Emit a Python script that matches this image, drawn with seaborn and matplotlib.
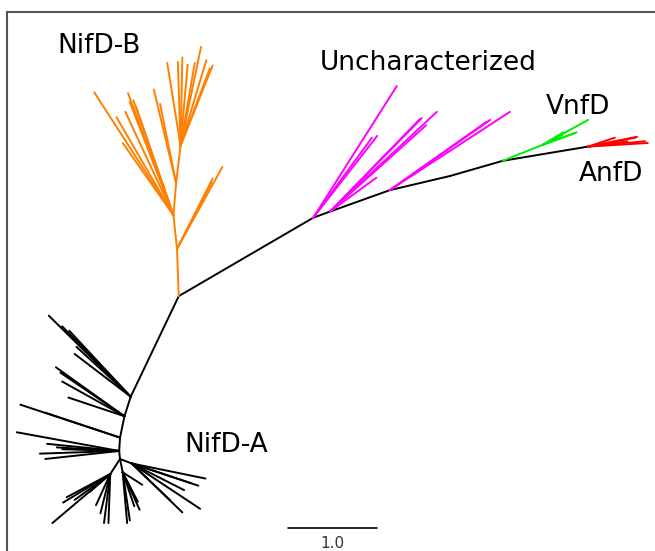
import pandas as pd
import matplotlib
matplotlib.use("Agg")
import matplotlib.pyplot as plt
import seaborn as sns

# node positions of the unrooted tree layout, in branch-length units (scale bar = 1.0)
inner_nodes = {
    "HA0": (0.00, 0.00), "HA1": (-0.01, 0.09), "HA2": (0.00, 0.24),
    "HA3": (0.05, 0.48), "HA4": (0.12, 0.70),
    "HA5": (-0.11, -0.17), "HA6": (0.03, -0.15), "HA7": (0.13, -0.05),
    "J": (0.66, 1.83),
    "B1": (0.64, 2.36), "B2": (0.60, 2.74), "B3": (0.63, 3.10), "B4": (0.68, 3.52),
    "U1": (2.17, 2.71), "U2": (2.36, 2.78), "U3": (3.03, 3.02), "M1": (3.71, 3.18),
    "V": (4.30, 3.35), "V1": (4.75, 3.53),
    "A": (5.26, 3.51),
}

inner_edges = [
    ("HA0", "HA1", "backbone"), ("HA1", "HA2", "backbone"), ("HA2", "HA3", "backbone"),
    ("HA3", "HA4", "backbone"), ("HA4", "J", "backbone"),
    ("HA0", "HA5", "backbone"), ("HA0", "HA6", "backbone"), ("HA0", "HA7", "backbone"),
    ("J", "U1", "backbone"), ("U1", "U2", "backbone"), ("U2", "U3", "backbone"),
    ("U3", "M1", "backbone"), ("M1", "V", "backbone"), ("V", "A", "backbone"),
    ("J", "B1", "NifD-B"), ("B1", "B2", "NifD-B"), ("B2", "B3", "NifD-B"), ("B3", "B4", "NifD-B"),
    ("V", "V1", "VnfD"),
]

nifd_a_tips = [
    ("HA4", -0.80, 1.61), ("HA4", -0.65, 1.49), ("HA4", -0.57, 1.44),
    ("HA4", -0.49, 1.26), ("HA4", -0.51, 1.18),
    ("HA3", -0.72, 1.03), ("HA3", -0.67, 0.97), ("HA3", -0.65, 0.87), ("HA3", -0.58, 0.69),
    ("HA2", -1.12, 0.61), ("HA2", -0.84, 0.52),
    ("HA1", -1.16, 0.30), ("HA1", -0.82, 0.17), ("HA1", -0.71, 0.13),
    ("HA1", -0.65, 0.11), ("HA1", -0.90, 0.06), ("HA1", -0.84, 0.00),
    ("HA5", -0.76, -0.72), ("HA5", -0.64, -0.49), ("HA5", -0.60, -0.43), ("HA5", -0.51, -0.46),
    ("HA5", -0.40, -0.33), ("HA5", -0.34, -0.37), ("HA5", -0.27, -0.52), ("HA5", -0.22, -0.61),
    ("HA5", -0.18, -0.72), ("HA5", -0.13, -0.72),
    ("HA6", 0.08, -0.72), ("HA6", 0.11, -0.69), ("HA6", 0.16, -0.53),
    ("HA6", 0.20, -0.48), ("HA6", 0.22, -0.57), ("HA6", 0.25, -0.29),
    ("HA7", 0.96, -0.22), ("HA7", 0.88, -0.30), ("HA7", 0.72, -0.35), ("HA7", 0.79, -0.27),
    ("HA7", 0.90, -0.56), ("HA7", 0.70, -0.60), ("HA7", 0.56, -0.46),
]

nifd_b_tips = [
    ("B1", 1.15, 3.28), ("B1", 1.04, 3.15), ("B1", 1.03, 3.11),
    ("B2", -0.29, 4.12), ("B2", -0.04, 3.84), ("B2", 0.03, 3.55), ("B2", 0.09, 4.11),
    ("B2", 0.11, 4.01), ("B2", 0.06, 3.90), ("B2", 0.15, 4.03), ("B2", 0.18, 3.96),
    ("B3", 0.38, 4.15), ("B3", 0.45, 3.99),
    ("B4", 0.53, 4.45), ("B4", 0.65, 4.46), ("B4", 0.70, 4.51), ("B4", 0.76, 4.43),
    ("B4", 0.91, 4.63), ("B4", 0.97, 4.48), ("B4", 1.04, 4.42), ("B4", 1.01, 4.39),
    ("B4", 0.84, 4.45),
]

unchar_tips = [
    ("U1", 3.11, 4.19), ("U1", 2.89, 3.63), ("U1", 2.83, 3.61),
    ("U2", 3.56, 3.90), ("U2", 3.39, 3.83), ("U2", 3.37, 3.82), ("U2", 3.44, 3.75),
    ("U2", 2.88, 3.16),
    ("U3", 4.38, 3.90), ("U3", 4.16, 3.81), ("U3", 4.12, 3.79),
]

vnfd_tips = [
    ("V1", 5.26, 3.81), ("V1", 5.13, 3.67), ("V1", 5.11, 3.66),
    ("V1", 4.98, 3.67), ("V1", 4.97, 3.64),
]

anfd_tips = [
    ("A", 5.93, 3.55), ("A", 5.81, 3.62), ("A", 5.79, 3.61),
    ("A", 5.56, 3.61), ("A", 5.90, 3.57), ("A", 5.70, 3.57),
]

clade_labels = ["NifD-B", "Uncharacterized", "VnfD", "AnfD", "NifD-A"]
label_x = [-0.70, 2.24, 4.78, 5.15, 0.72]
label_y = [4.56, 4.37, 3.88, 3.12, 0.08]

palette = {
    "backbone": "black",
    "NifD-A": "black",
    "NifD-B": "#ff8000",
    "Uncharacterized": "#ff00ff",
    "VnfD": "#00ee00",
    "AnfD": "#ff0000",
}

# build one row per segment end
rows = []
seg = 0
for p, c, grp in inner_edges:
    for node in (p, c):
        rows.append({"x": inner_nodes[node][0], "y": inner_nodes[node][1], "seg": seg, "group": grp})
    seg += 1
for grp, tips in [("NifD-A", nifd_a_tips), ("NifD-B", nifd_b_tips),
                  ("Uncharacterized", unchar_tips), ("VnfD", vnfd_tips), ("AnfD", anfd_tips)]:
    for p, tx, ty in tips:
        rows.append({"x": inner_nodes[p][0], "y": inner_nodes[p][1], "seg": seg, "group": grp})
        rows.append({"x": tx, "y": ty, "seg": seg, "group": grp})
        seg += 1
df = pd.DataFrame(rows)

sns.set_style("white")
plt.rcParams["font.family"] = ["DejaVu Sans"]

fig = plt.figure(figsize=(6.55, 5.51), dpi=100)
ax = fig.add_axes([7 / 655, 0, 648 / 655, 539 / 551])

sns.lineplot(data=df, x="x", y="y", units="seg", hue="group", palette=palette,
             estimator=None, sort=False, legend=False, linewidth=1.4, ax=ax)

for lab, lx, ly in zip(clade_labels, label_x, label_y):
    ax.text(lx, ly, lab, fontsize=19, ha="left", va="baseline", color="black")

# scale bar
ax.plot([1.888, 2.888], [-0.775, -0.775], color="black", linewidth=1.2)
ax.text(2.388, -0.945, "1.0", fontsize=11, ha="center", va="center", color="#333333")

ax.set_xlim(-1.270, 6.011)
ax.set_ylim(-1.034, 5.022)
ax.set_xticks([])
ax.set_yticks([])
ax.set_xlabel("")
ax.set_ylabel("")
for side in ["right", "bottom"]:
    ax.spines[side].set_visible(False)
for side in ["left", "top"]:
    ax.spines[side].set_color("#555555")
    ax.spines[side].set_linewidth(1.5)

fig.savefig("out.png", dpi=100)
